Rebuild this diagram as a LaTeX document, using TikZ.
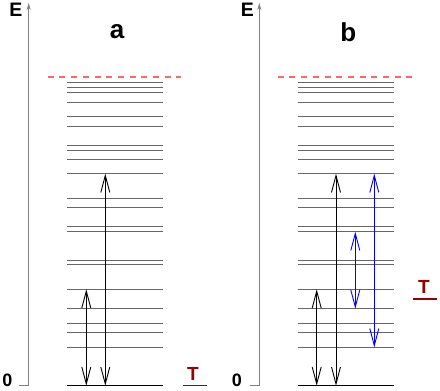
\documentclass[tikz,border=0pt]{standalone}
\usepackage{fontspec}
\setmainfont{Liberation Sans}
\usetikzlibrary{arrows.meta}
\definecolor{tred}{RGB}{153,0,0}
\tikzset{
  axisline/.style={draw=black!50, line width=0.8pt},
  axistip/.style={-{Stealth[length=7pt,width=4pt]}},
  elevel/.style={draw=black!60, line width=0.8pt},
  ground/.style={draw=black, line width=1.1pt},
  cutoff/.style={draw=red!60, line width=1.8pt, dash pattern=on 6pt off 5.7pt},
  trans/.style={line width=0.9pt, {Straight Barb[length=17pt,width=9pt]}-{Straight Barb[length=17pt,width=9pt]}},
  btrans/.style={trans, draw=blue},
  lbl/.style={font=\fontsize{19.5}{19.5}\selectfont\bfseries, inner sep=0pt},
  zlbl/.style={font=\fontsize{18}{18}\selectfont\bfseries, inner sep=0pt},
  plbl/.style={font=\fontsize{26}{26}\selectfont\bfseries, inner sep=0pt},
  tlbl/.style={font=\fontsize{19}{19}\selectfont\bfseries, inner sep=0pt, text=tred},
  tline/.style={draw=tred, line width=1.8pt}
}
\begin{document}
\begin{tikzpicture}[x=1pt,y=-1pt]
\useasboundingbox (0,0) rectangle (440,391);
% panel a
\coordinate (aBot) at (28.7,385.5);
\coordinate (aTop) at (28.7,3);
\coordinate (aTick) at (19.3,385.5);
\draw[axisline] (aTick) -- (aBot);
\draw[axisline,axistip] (aBot) -- (aTop);
\node[lbl] (aE) at (16,10) {E};
\node[zlbl] (a0) at (7.5,380) {0};
\node[plbl] (aL) at (117,32) {a};
\coordinate (aDL) at (47.7,77.3);
\coordinate (aDR) at (181,77.3);
\draw[cutoff] (aDL) -- (aDR);
\foreach \y in {82.5,87.3,92.3,102,116.3,126,145,150,159.3,173.7,198,207.7,226.7,231.7,260.7,264.7,289.3,308.7,323,332.3,347.3}
  \draw[elevel] (67,\y) -- (163.3,\y);
\coordinate (aGL) at (67,385.7);
\coordinate (aGR) at (163.3,385.7);
\draw[ground] (aGL) -- (aGR);
\coordinate (a1b) at (86.3,385.7);
\coordinate (a1t) at (86.3,289.3);
\coordinate (a2b) at (105.3,385.7);
\coordinate (a2t) at (105.3,173.7);
\draw[trans] (a1b) -- (a1t);
\draw[trans] (a2b) -- (a2t);
\node[tlbl] (aT) at (193,374) {T};
\coordinate (aTL) at (182.5,385.5);
\coordinate (aTR) at (206.5,385.5);
\draw[tline] (aTL) -- (aTR);
% panel b
\coordinate (bBot) at (259.3,385.5);
\coordinate (bTop) at (259.3,3);
\coordinate (bTick) at (250,385.5);
\draw[axisline] (bTick) -- (bBot);
\draw[axisline,axistip] (bBot) -- (bTop);
\node[lbl] (bE) at (247.5,10) {E};
\node[zlbl] (b0) at (237,380) {0};
\node[plbl] (bL) at (348.3,32) {b};
\coordinate (bDL) at (277.7,77.3);
\coordinate (bDR) at (411.7,77.3);
\draw[cutoff] (bDL) -- (bDR);
\foreach \y in {82.5,87.3,92.3,102,116.3,126,145,150,159.3,173.7,198,207.7,226.7,231.7,260.7,264.7,289.3,308.7,323,332.3,347.3}
  \draw[elevel] (297.7,\y) -- (394,\y);
\coordinate (bGL) at (297.7,385.7);
\coordinate (bGR) at (394,385.7);
\draw[ground] (bGL) -- (bGR);
\coordinate (b1b) at (316.7,385.7);
\coordinate (b1t) at (316.7,289.3);
\coordinate (b2b) at (336,385.7);
\coordinate (b2t) at (336,173.7);
\draw[trans] (b1b) -- (b1t);
\draw[trans] (b2b) -- (b2t);
\coordinate (b3b) at (355.3,308.7);
\coordinate (b3t) at (355.3,231.7);
\coordinate (b4b) at (374.3,347.3);
\coordinate (b4t) at (374.3,173.7);
\draw[btrans] (b3b) -- (b3t);
\draw[btrans] (b4b) -- (b4t);
\node[tlbl] (bT) at (424,287) {T};
\coordinate (bTL) at (413.3,298.8);
\coordinate (bTR) at (436.7,298.8);
\draw[tline] (bTL) -- (bTR);
\end{tikzpicture}
\end{document}
